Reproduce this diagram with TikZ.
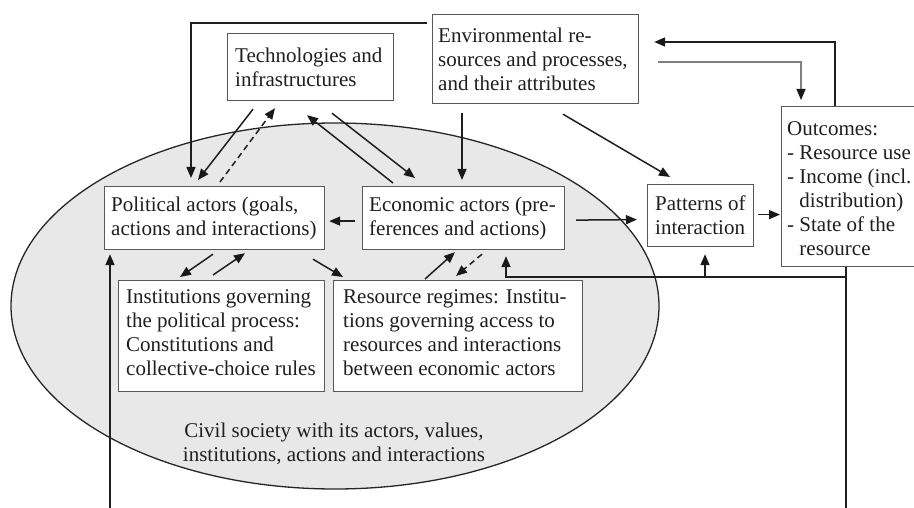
\documentclass[tikz,border=0pt]{standalone}
\usepackage{fontspec}
\setmainfont{Liberation Serif}
\usetikzlibrary{arrows.meta,calc,shapes.geometric}
\begin{document}
\begin{tikzpicture}[x=1pt,y=-1pt,
  every node/.style={font=\fontsize{21}{24}\selectfont, text=black!88},
  box/.style={draw=black!65, line width=1.2pt, fill=white, anchor=north west, inner sep=0pt},
  lbl/.style={anchor=west, align=left, inner sep=0pt},
  arr/.style={draw=black!88, line width=1.5pt, -{Triangle[length=11pt,width=9pt,color=black!90]}},
  dsh/.style={arr, dash pattern=on 6pt off 4pt},
  soft/.style={arr, draw=black!50, line width=1.3pt}
]
\useasboundingbox (0,0) rectangle (914,508);
\clip (0,0) rectangle (914,508);

% civil society
\node[ellipse, draw=black!85, line width=1.3pt, fill=black!9,
      minimum width=648pt, minimum height=366pt, inner sep=0pt] (civ) at (335,306) {};
\node[align=center, inner sep=0pt] (civt) at (334,444)
  {Civil society with its actors, values,\\institutions, actions and interactions};

% boxes and their labels
\node[box, minimum width=166pt, minimum height=67pt] (tech) at (227,33) {};
\node[lbl] (techt) at ($(tech.west)+(8,0)$) {Technologies and\\infrastructures};

\node[box, minimum width=206pt, minimum height=89pt] (env) at (432,14) {};
\node[lbl] (envt) at ($(env.west)+(6,0)$) {Environmental re-\\sources and processes,\\and their attributes};

\node[box, minimum width=220pt, minimum height=63pt] (pol) at (104,186) {};
\node[lbl] (polt) at ($(pol.west)+(7,0)$) {Political actors (goals,\\actions and interactions)};

\node[box, minimum width=202pt, minimum height=63pt] (eco) at (362,186) {};
\node[lbl] (ecot) at ($(eco.west)+(7,0)$) {Economic actors (pre-\\ferences and actions)};

\node[box, minimum width=106pt, minimum height=62pt] (pat) at (647,184) {};
\node[lbl] (patt) at ($(pat.west)+(8,0)$) {Patterns of\\interaction};

\node[box, minimum width=206pt, minimum height=111pt] (inst) at (118,280) {};
\node[lbl] (instt) at ($(inst.west)+(8,-3)$) {Institutions governing\\the political process:\\Constitutions and\\collective-choice rules};

\node[box, minimum width=249pt, minimum height=111pt] (res) at (333,280) {};
\node[lbl] (rest) at ($(res.west)+(10,-3)$) {Resource regimes: Institu-\\tions governing access to\\resources and interactions\\between economic actors};

\node[box, minimum width=140pt, minimum height=160pt] (out) at (781,106) {};
\node[lbl] (outt) at ($(out.west)+(6,2)$) {Outcomes:\\- Resource use\\- Income (incl.\\\phantom{- }distribution)\\- State of the\\\phantom{- }resource};

% connectors
\draw[arr] ($(env.north west)+(-5,9)$) -| ($(pol.north west)+(87,-8)$);
\draw[arr] ($(tech.south west)+(26,8)$) -- ($(pol.north west)+(94,-6)$);
\draw[dsh] ($(pol.north west)+(116,-4)$) -- ($(tech.south west)+(48,7)$);
\draw[arr] ($(eco.north west)+(31,-3)$) -- ($(tech.south west)+(80,14)$);
\draw[arr] ($(tech.south west)+(105,12)$) -- ($(eco.north west)+(53,-8)$);
\draw[arr] ($(env.south west)+(30,9)$) -- ($(eco.north west)+(100,-6)$);
\draw[arr] ($(env.south west)+(131,10)$) -- ($(pat.north west)+(23,-7)$);
\draw[arr] ($(eco.west)+(-7,3)$) -- ($(pol.east)+(4,3)$);
\draw[arr] ($(eco.east)+(11,2)$) -- ($(pat.west)+(-10,4)$);
\draw[arr] ($(pat.east)+(4,-1)$) -- ($(out.west |- pat.east)+(-1,-1)$);
\draw[arr] ($(pol.south west)+(109,4)$) -- ($(inst.north west)+(62,-3)$);
\draw[arr] ($(inst.north west)+(95,-5)$) -- ($(pol.south west)+(141,3)$);
\draw[arr] ($(pol.south west)+(209,9)$) -- ($(res.north west)+(10,-3)$);
\draw[arr] ($(res.north west)+(92,-1)$) -- ($(eco.south west)+(93,2)$);
\draw[dsh] ($(eco.south west)+(120,4)$) -- ($(res.north west)+(123,-4)$);

% feedback from the outcomes
\draw[arr] ($(out.north west)+(54,0)$) |- ($(env.north east)+(15,28)$);
\draw[soft] ($(env.north east)+(19,48)$) -| ($(out.north west)+(20,-6)$);
\coordinate (fb) at ($(out.south west)+(65,10)$);
\draw[arr] ($(out.south west)+(65,0)$) -- ++(0,264) -| ($(pol.south west)+(6,4)$);
\draw[arr] (fb) -| ($(eco.south west)+(144,6)$);
\draw[arr] ($(pat.south west)+(58,30)$) -- ($(pat.south west)+(58,7)$);
\end{tikzpicture}
\end{document}
